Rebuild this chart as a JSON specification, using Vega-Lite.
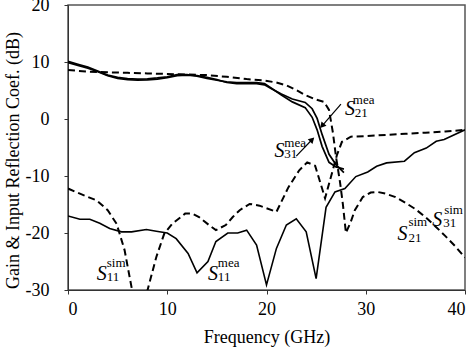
{
  "$schema": "https://vega.github.io/schema/vega-lite/v6.json",
  "width": 397,
  "height": 285,
  "autosize": "none",
  "padding": {"left": 68, "top": 5, "right": 9, "bottom": 59},
  "config": {
    "view": {"stroke": "#555", "strokeWidth": 1.5},
    "font": "Liberation Serif",
    "text": {"font": "Liberation Serif"},
    "axis": {
      "grid": false,
      "labelFont": "Liberation Serif",
      "titleFont": "Liberation Serif",
      "labelFontSize": 18,
      "titleFontSize": 18,
      "titleFontWeight": "normal",
      "labelColor": "black",
      "titleColor": "black",
      "domainColor": "#333",
      "tickColor": "#333",
      "tickSize": 4
    }
  },
  "datasets": {
    "curves": [
      {"series": "S21mea", "x": 0, "y": 10.1}, {"series": "S21mea", "x": 1, "y": 9.6}, {"series": "S21mea", "x": 2, "y": 9.1}, {"series": "S21mea", "x": 3, "y": 8.4}, {"series": "S21mea", "x": 4, "y": 7.7}, {"series": "S21mea", "x": 5, "y": 7.3}, {"series": "S21mea", "x": 6, "y": 7.1}, {"series": "S21mea", "x": 7, "y": 7.0}, {"series": "S21mea", "x": 8, "y": 7.05}, {"series": "S21mea", "x": 9, "y": 7.2}, {"series": "S21mea", "x": 10, "y": 7.4}, {"series": "S21mea", "x": 11, "y": 7.8}, {"series": "S21mea", "x": 12, "y": 7.8}, {"series": "S21mea", "x": 13, "y": 7.5}, {"series": "S21mea", "x": 14, "y": 7.1}, {"series": "S21mea", "x": 15, "y": 6.8}, {"series": "S21mea", "x": 16, "y": 6.5}, {"series": "S21mea", "x": 17, "y": 6.4}, {"series": "S21mea", "x": 18, "y": 6.4}, {"series": "S21mea", "x": 19, "y": 6.4}, {"series": "S21mea", "x": 19.8, "y": 6.2}, {"series": "S21mea", "x": 20.5, "y": 5.4}, {"series": "S21mea", "x": 21.5, "y": 4.2}, {"series": "S21mea", "x": 22.6, "y": 3.0}, {"series": "S21mea", "x": 23.9, "y": 2.0}, {"series": "S21mea", "x": 24.6, "y": 0.3}, {"series": "S21mea", "x": 25.1, "y": -1.9}, {"series": "S21mea", "x": 25.6, "y": -4.8}, {"series": "S21mea", "x": 26.3, "y": -7.6}, {"series": "S21mea", "x": 27.0, "y": -8.4}, {"series": "S21mea", "x": 27.8, "y": -8.8},
      {"series": "S31mea", "x": 0, "y": 9.9}, {"series": "S31mea", "x": 1, "y": 9.4}, {"series": "S31mea", "x": 2, "y": 8.9}, {"series": "S31mea", "x": 3, "y": 8.3}, {"series": "S31mea", "x": 4, "y": 7.6}, {"series": "S31mea", "x": 5, "y": 7.1}, {"series": "S31mea", "x": 6, "y": 6.9}, {"series": "S31mea", "x": 7, "y": 6.8}, {"series": "S31mea", "x": 8, "y": 6.85}, {"series": "S31mea", "x": 9, "y": 7.0}, {"series": "S31mea", "x": 10, "y": 7.25}, {"series": "S31mea", "x": 11, "y": 7.6}, {"series": "S31mea", "x": 12, "y": 7.7}, {"series": "S31mea", "x": 13, "y": 7.6}, {"series": "S31mea", "x": 14, "y": 7.3}, {"series": "S31mea", "x": 15, "y": 6.9}, {"series": "S31mea", "x": 16, "y": 6.4}, {"series": "S31mea", "x": 17, "y": 6.2}, {"series": "S31mea", "x": 18, "y": 6.2}, {"series": "S31mea", "x": 19, "y": 6.2}, {"series": "S31mea", "x": 19.8, "y": 6.0}, {"series": "S31mea", "x": 20.5, "y": 5.3}, {"series": "S31mea", "x": 21.5, "y": 4.4}, {"series": "S31mea", "x": 22.6, "y": 3.5}, {"series": "S31mea", "x": 23.9, "y": 2.9}, {"series": "S31mea", "x": 24.6, "y": 1.8}, {"series": "S31mea", "x": 25.1, "y": 0.1}, {"series": "S31mea", "x": 25.6, "y": -2.7}, {"series": "S31mea", "x": 26.3, "y": -6.2}, {"series": "S31mea", "x": 27.0, "y": -8.0}, {"series": "S31mea", "x": 27.8, "y": -9.4},
      {"series": "S21sim", "x": 0, "y": 8.6}, {"series": "S21sim", "x": 2, "y": 8.3}, {"series": "S21sim", "x": 4, "y": 8.2}, {"series": "S21sim", "x": 6, "y": 8.1}, {"series": "S21sim", "x": 8, "y": 8.0}, {"series": "S21sim", "x": 10, "y": 7.9}, {"series": "S21sim", "x": 12, "y": 7.8}, {"series": "S21sim", "x": 14, "y": 7.7}, {"series": "S21sim", "x": 16, "y": 7.4}, {"series": "S21sim", "x": 18, "y": 7.0}, {"series": "S21sim", "x": 19.6, "y": 6.8}, {"series": "S21sim", "x": 21, "y": 6.4}, {"series": "S21sim", "x": 22, "y": 5.9}, {"series": "S21sim", "x": 23, "y": 5.1}, {"series": "S21sim", "x": 23.9, "y": 4.2}, {"series": "S21sim", "x": 25, "y": 3.4}, {"series": "S21sim", "x": 25.8, "y": 3.0}, {"series": "S21sim", "x": 26.3, "y": 1.6}, {"series": "S21sim", "x": 26.7, "y": -2.5}, {"series": "S21sim", "x": 27.0, "y": -6.6}, {"series": "S21sim", "x": 27.4, "y": -11}, {"series": "S21sim", "x": 27.7, "y": -15}, {"series": "S21sim", "x": 28.0, "y": -20.0}, {"series": "S21sim", "x": 28.5, "y": -18}, {"series": "S21sim", "x": 28.9, "y": -16}, {"series": "S21sim", "x": 29.7, "y": -13.7}, {"series": "S21sim", "x": 30.5, "y": -12.9}, {"series": "S21sim", "x": 31.2, "y": -12.8}, {"series": "S21sim", "x": 32, "y": -13.1}, {"series": "S21sim", "x": 33, "y": -13.7}, {"series": "S21sim", "x": 34, "y": -14.7}, {"series": "S21sim", "x": 35, "y": -15.8}, {"series": "S21sim", "x": 36, "y": -17.2}, {"series": "S21sim", "x": 37, "y": -18.8}, {"series": "S21sim", "x": 38, "y": -20.5}, {"series": "S21sim", "x": 39, "y": -22.3}, {"series": "S21sim", "x": 40, "y": -24.3},
      {"series": "S11sim", "x": 0, "y": -12.2}, {"series": "S11sim", "x": 1.2, "y": -13.1}, {"series": "S11sim", "x": 2.9, "y": -14.3}, {"series": "S11sim", "x": 4, "y": -16.0}, {"series": "S11sim", "x": 4.9, "y": -18.4}, {"series": "S11sim", "x": 5.7, "y": -23}, {"series": "S11sim", "x": 7.1, "y": -36}, {"series": "S11sim", "x": 8.9, "y": -24.2}, {"series": "S11sim", "x": 9.7, "y": -20.1}, {"series": "S11sim", "x": 10.5, "y": -18.4}, {"series": "S11sim", "x": 11.8, "y": -16.6}, {"series": "S11sim", "x": 12.5, "y": -16.6}, {"series": "S11sim", "x": 13.2, "y": -17.2}, {"series": "S11sim", "x": 14.2, "y": -18.6}, {"series": "S11sim", "x": 14.9, "y": -19.5}, {"series": "S11sim", "x": 15.9, "y": -18.6}, {"series": "S11sim", "x": 16.6, "y": -17.2}, {"series": "S11sim", "x": 17.3, "y": -16}, {"series": "S11sim", "x": 18.3, "y": -14.9}, {"series": "S11sim", "x": 19.3, "y": -15.2}, {"series": "S11sim", "x": 21, "y": -16.3}, {"series": "S11sim", "x": 22.2, "y": -12.0}, {"series": "S11sim", "x": 23.3, "y": -9.0}, {"series": "S11sim", "x": 24.1, "y": -7.6}, {"series": "S11sim", "x": 24.9, "y": -8.2}, {"series": "S11sim", "x": 25.9, "y": -13.9}, {"series": "S11sim", "x": 27.1, "y": -6.3}, {"series": "S11sim", "x": 27.6, "y": -4.0}, {"series": "S11sim", "x": 28.5, "y": -3.1}, {"series": "S11sim", "x": 30, "y": -3.0}, {"series": "S11sim", "x": 32, "y": -2.8}, {"series": "S11sim", "x": 34, "y": -2.6}, {"series": "S11sim", "x": 36, "y": -2.4}, {"series": "S11sim", "x": 38, "y": -2.2}, {"series": "S11sim", "x": 40, "y": -1.9},
      {"series": "S11mea", "x": 0, "y": -17.0}, {"series": "S11mea", "x": 1.2, "y": -17.6}, {"series": "S11mea", "x": 2.2, "y": -17.6}, {"series": "S11mea", "x": 3.2, "y": -18.3}, {"series": "S11mea", "x": 4.2, "y": -19.2}, {"series": "S11mea", "x": 5.4, "y": -19.8}, {"series": "S11mea", "x": 6.4, "y": -19.8}, {"series": "S11mea", "x": 7.9, "y": -19.4}, {"series": "S11mea", "x": 8.9, "y": -19.7}, {"series": "S11mea", "x": 10, "y": -20.0}, {"series": "S11mea", "x": 10.9, "y": -21.0}, {"series": "S11mea", "x": 12.1, "y": -23.6}, {"series": "S11mea", "x": 13, "y": -27.0}, {"series": "S11mea", "x": 14.1, "y": -25.0}, {"series": "S11mea", "x": 14.9, "y": -21.5}, {"series": "S11mea", "x": 16.1, "y": -20.0}, {"series": "S11mea", "x": 17.1, "y": -20.0}, {"series": "S11mea", "x": 18, "y": -19.5}, {"series": "S11mea", "x": 19, "y": -22.1}, {"series": "S11mea", "x": 20, "y": -29.1}, {"series": "S11mea", "x": 21, "y": -22.7}, {"series": "S11mea", "x": 22, "y": -18.6}, {"series": "S11mea", "x": 23, "y": -17.5}, {"series": "S11mea", "x": 24, "y": -19.8}, {"series": "S11mea", "x": 25, "y": -28.0}, {"series": "S11mea", "x": 26, "y": -15.5}, {"series": "S11mea", "x": 26.9, "y": -12.8}, {"series": "S11mea", "x": 27.9, "y": -12.2}, {"series": "S11mea", "x": 29, "y": -10.1}, {"series": "S11mea", "x": 30.2, "y": -9.3}, {"series": "S11mea", "x": 31.1, "y": -8.3}, {"series": "S11mea", "x": 32.1, "y": -7.7}, {"series": "S11mea", "x": 33.9, "y": -7.4}, {"series": "S11mea", "x": 34.9, "y": -5.9}, {"series": "S11mea", "x": 36.1, "y": -5.1}, {"series": "S11mea", "x": 37.1, "y": -3.9}, {"series": "S11mea", "x": 37.9, "y": -3.6}, {"series": "S11mea", "x": 40, "y": -1.9}
    ],
    "labels": [
      {"role": "main", "x": 27.9, "y": 0.7, "t": "S"}, {"role": "small", "x": 28.7, "y": 2.7, "t": "mea"}, {"role": "small", "x": 28.9, "y": 0.4, "t": "21"},
      {"role": "main", "x": 20.8, "y": -6.7, "t": "S"}, {"role": "small", "x": 21.8, "y": -4.9, "t": "mea"}, {"role": "small", "x": 21.8, "y": -6.9, "t": "31"},
      {"role": "main", "x": 2.9, "y": -28.25, "t": "S"}, {"role": "small", "x": 3.9, "y": -26.0, "t": "sim"}, {"role": "small", "x": 3.9, "y": -28.4, "t": "11"},
      {"role": "main", "x": 14.1, "y": -28.25, "t": "S"}, {"role": "small", "x": 15.1, "y": -26.0, "t": "mea"}, {"role": "small", "x": 15.1, "y": -28.4, "t": "11"},
      {"role": "main", "x": 33.2, "y": -21.3, "t": "S"}, {"role": "small", "x": 34.3, "y": -18.8, "t": "sim"}, {"role": "small", "x": 34.3, "y": -21.5, "t": "21"},
      {"role": "main", "x": 36.7, "y": -18.7, "t": "S"}, {"role": "small", "x": 37.9, "y": -16.6, "t": "sim"}, {"role": "small", "x": 37.8, "y": -19.0, "t": "31"}
    ],
    "arrows": [
      {"name": "S21", "x": 27.5, "y": 2.6, "x2": 25.6, "y2": -1.2},
      {"name": "S31", "x": 23.0, "y": -6.5, "x2": 24.6, "y2": -3.6}
    ]
  },
  "encoding": {
    "x": {"field": "x", "type": "quantitative", "scale": {"domain": [0, 40], "nice": false},
      "axis": {"values": [0, 10, 20, 30, 40], "title": "Frequency (GHz)", "labelPadding": 6, "titlePadding": 10,
        "labelFont": "Liberation Serif", "titleFont": "Liberation Serif", "labelFontSize": 18, "titleFontSize": 18}},
    "y": {"field": "y", "type": "quantitative", "scale": {"domain": [-30, 20], "nice": false},
      "axis": {"values": [-30, -20, -10, 0, 10, 20], "title": "Gain & Input Reflection Coef. (dB)", "labelPadding": 15,
        "labelFont": "Liberation Serif", "titleFont": "Liberation Serif", "labelFontSize": 18, "titleFontSize": 18,
        "labelExpr": "datum.value < 0 ? '-' + abs(datum.value) : '' + datum.value", "titleX": -46, "titleY": 155}}
  },
  "layer": [
    {
      "data": {"name": "curves"},
      "transform": [{"filter": "datum.series == 'S21sim' || datum.series == 'S11sim'"}],
      "mark": {"type": "line", "color": "black", "strokeWidth": 2, "strokeDash": [7, 4], "clip": true},
      "encoding": {"detail": {"field": "series"}}
    },
    {
      "data": {"name": "curves"},
      "transform": [{"filter": "datum.series == 'S11mea'"}],
      "mark": {"type": "line", "color": "black", "strokeWidth": 1.6, "clip": true},
      "encoding": {}
    },
    {
      "data": {"name": "curves"},
      "transform": [{"filter": "datum.series == 'S21mea' || datum.series == 'S31mea'"}],
      "mark": {"type": "line", "color": "black", "strokeWidth": 1.7, "clip": true},
      "encoding": {"detail": {"field": "series"}}
    },
    {
      "data": {"name": "arrows"},
      "mark": {"type": "rule", "color": "black", "strokeWidth": 1.2},
      "encoding": {"x2": {"field": "x2"}, "y2": {"field": "y2"}}
    },
    {
      "data": {"name": "arrows"},
      "transform": [{"filter": "datum.name == 'S21'"}],
      "mark": {"type": "point", "shape": "triangle-up", "filled": true, "color": "black", "opacity": 1, "size": 45, "angle": 221},
      "encoding": {"x": {"field": "x2", "type": "quantitative"}, "y": {"field": "y2", "type": "quantitative"}}
    },
    {
      "data": {"name": "arrows"},
      "transform": [{"filter": "datum.name == 'S31'"}],
      "mark": {"type": "point", "shape": "triangle-up", "filled": true, "color": "black", "opacity": 1, "size": 45, "angle": 45},
      "encoding": {"x": {"field": "x2", "type": "quantitative"}, "y": {"field": "y2", "type": "quantitative"}}
    },
    {
      "data": {"name": "labels"},
      "transform": [{"filter": "datum.role == 'main'"}],
      "mark": {"type": "text", "font": "Liberation Serif", "fontStyle": "italic", "fontSize": 20, "align": "left", "baseline": "alphabetic", "color": "black"},
      "encoding": {"text": {"field": "t"}}
    },
    {
      "data": {"name": "labels"},
      "transform": [{"filter": "datum.role == 'small'"}],
      "mark": {"type": "text", "font": "Liberation Serif", "fontSize": 13, "align": "left", "baseline": "alphabetic", "color": "black"},
      "encoding": {"text": {"field": "t"}}
    }
  ]
}
